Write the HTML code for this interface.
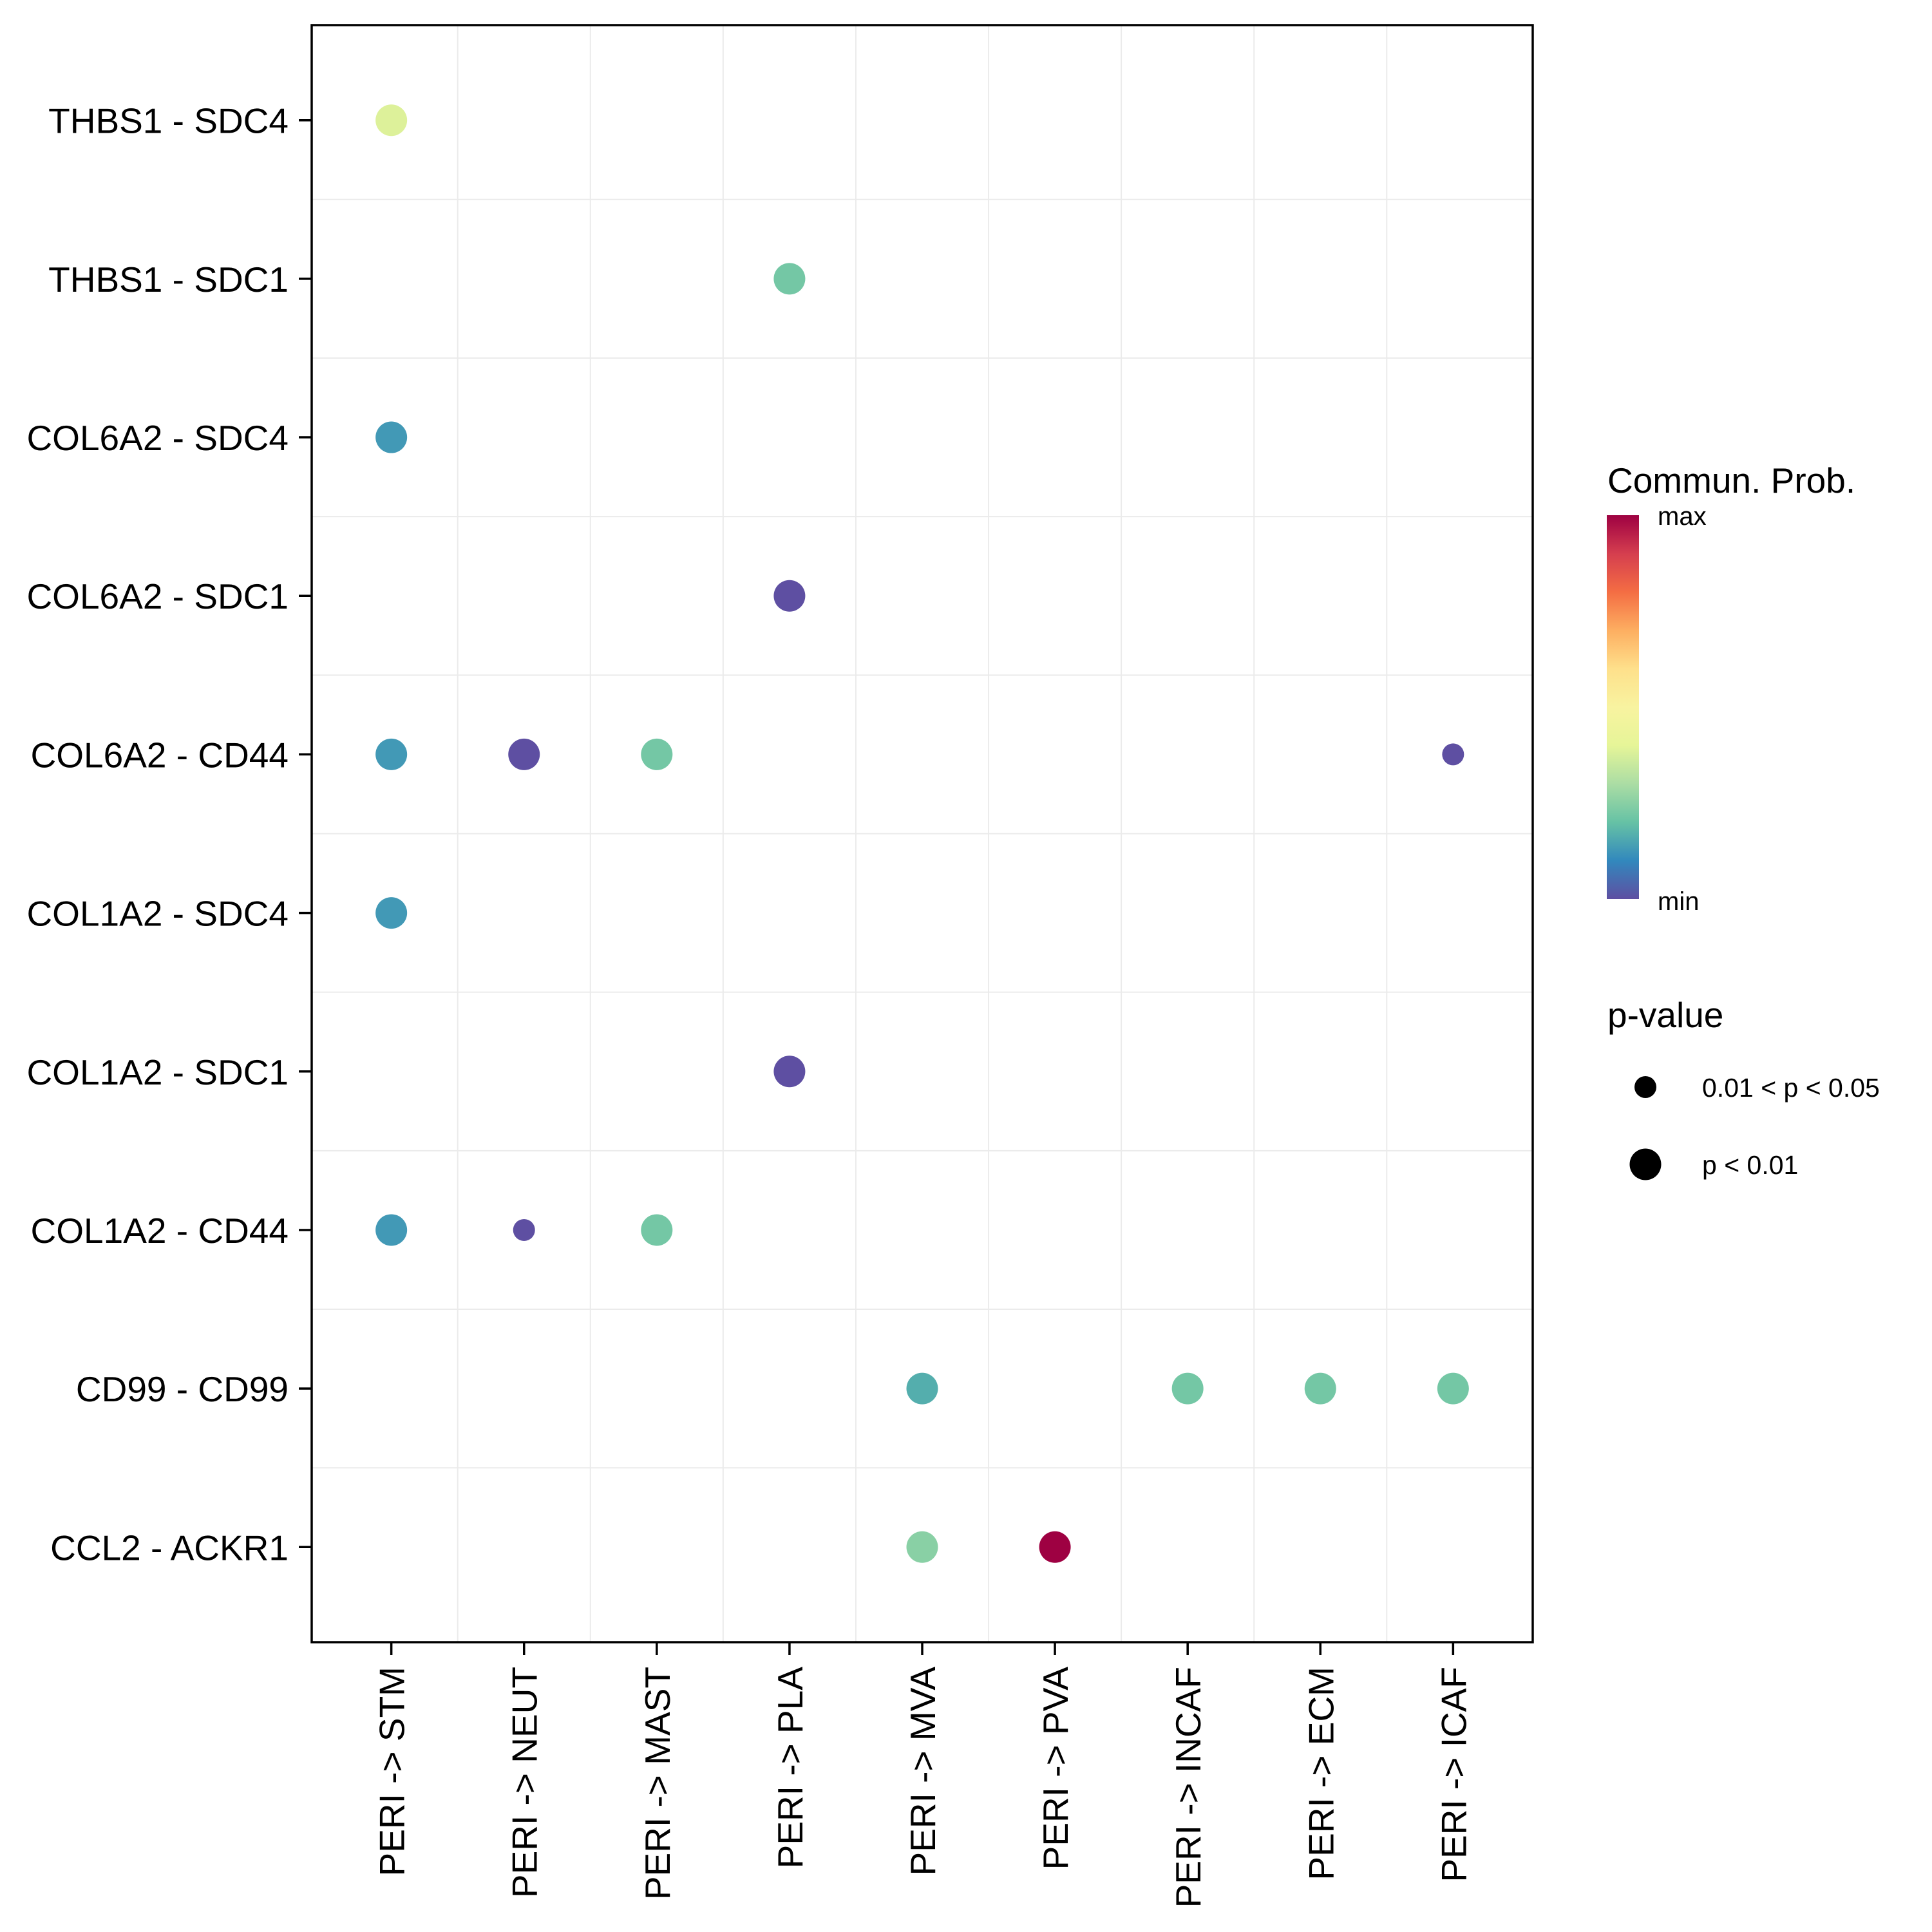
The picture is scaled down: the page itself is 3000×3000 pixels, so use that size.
<!DOCTYPE html>
<html><head><meta charset="utf-8">
<style>
html,body{margin:0;padding:0;background:#fff;}
svg{display:block;font-family:"Liberation Sans",Arial,sans-serif;}
</style></head>
<body>
<svg id="chart" width="3000" height="3000" viewBox="0 0 3000 3000" xmlns="http://www.w3.org/2000/svg">
<defs>
<linearGradient id="spectral" x1="0" y1="1" x2="0" y2="0">
<stop offset="0" stop-color="#5e4fa2"/><stop offset="0.1" stop-color="#3288bd"/><stop offset="0.2" stop-color="#66c2a5"/><stop offset="0.3" stop-color="#abdda4"/><stop offset="0.4" stop-color="#e6f598"/><stop offset="0.5" stop-color="#f8f3a0"/><stop offset="0.6" stop-color="#fee08b"/><stop offset="0.7" stop-color="#fdae61"/><stop offset="0.8" stop-color="#f46d43"/><stop offset="0.9" stop-color="#d53e4f"/><stop offset="1" stop-color="#9e0142"/>
</linearGradient>
</defs>
<g id="grid"></g>
<g id="dots"></g>
<rect x="484" y="39" width="1896" height="2511" fill="none" stroke="#000" stroke-width="3.5"/>
<g id="yaxis"></g>
<g id="xaxis"></g>
<g>
<text x="2496" y="765" font-size="55">Commun. Prob.</text>
<rect x="2495" y="800" width="50" height="596" fill="url(#spectral)"/>
<text x="2574" y="815" font-size="40">max</text>
<text x="2574" y="1413" font-size="40">min</text>
</g>
<g>
<text x="2496" y="1595" font-size="55">p-value</text>
<circle cx="2555" cy="1688" r="17" fill="#000"/>
<text x="2643" y="1703" font-size="41">0.01 &lt; p &lt; 0.05</text>
<circle cx="2555" cy="1808" r="24.5" fill="#000"/>
<text x="2643" y="1823" font-size="41">p &lt; 0.01</text>
</g>
</svg>
<script>
const rowLabels = ["THBS1 - SDC4","THBS1 - SDC1","COL6A2 - SDC4","COL6A2 - SDC1","COL6A2 - CD44","COL1A2 - SDC4","COL1A2 - SDC1","COL1A2 - CD44","CD99 - CD99","CCL2 - ACKR1"];
const colLabels = ["PERI -> STM","PERI -> NEUT","PERI -> MAST","PERI -> PLA","PERI -> MVA","PERI -> PVA","PERI -> INCAF","PERI -> ECM","PERI -> ICAF"];
const dotRow = [0,1,2,3,4,4,4,4,5,6,7,7,7,8,8,8,8,9,9];
const dotCol = [0,3,0,3,0,1,2,8,0,3,0,1,2,4,6,7,8,4,5];
const dotProb = [0.385,0.22,0.13,0.0,0.13,0.0,0.22,0.0,0.13,0.0,0.13,0.0,0.22,0.165,0.22,0.22,0.22,0.25,1.0];
const dotPval = [2,2,2,2,2,2,2,1,2,2,2,1,2,2,2,2,2,2,2];

const NS="http://www.w3.org/2000/svg";
const L=484,R=2380,T=39,B=2550;
const nR=rowLabels.length,nC=colLabels.length;
const stepY=(B-T)/(nR-1+1.2), stepX=(R-L)/(nC-1+1.2);
function yPos(i){return T+0.6*stepY+i*stepY;}
function xPos(j){return L+0.6*stepX+j*stepX;}
function rSize(p){return p===1?17:24.5;}
const stops=["#5e4fa2","#3288bd","#66c2a5","#abdda4","#e6f598","#ffffbf","#fee08b","#fdae61","#f46d43","#d53e4f","#9e0142"];
function hex(h){return [1,3,5].map(k=>parseInt(h.substr(k,2),16));}
function colorOf(v){v=Math.max(0,Math.min(1,v));const s=v*10,i=Math.min(9,Math.floor(s)),f=s-i;
const a=hex(stops[i]),b=hex(stops[i+1]);return "rgb("+a.map((c,k)=>Math.round(c+(b[k]-c)*f)).join(",")+")";}
function mk(tag,attrs,parent){const e=document.createElementNS(NS,tag);for(const k in attrs)e.setAttribute(k,attrs[k]);parent.appendChild(e);return e;}
const grid=document.getElementById('grid'),dots=document.getElementById('dots'),ya=document.getElementById('yaxis'),xa=document.getElementById('xaxis');
mk('rect',{x:L,y:T,width:R-L,height:B-T,fill:'#fff'},grid);
for(let i=0;i<nR-1;i++){const y=(yPos(i)+yPos(i+1))/2;const ln=mk('line',{x1:L,x2:R,y1:y,y2:y,stroke:'#ebebeb','stroke-width':2},grid);

}
for(let j=0;j<nC-1;j++){const x=(xPos(j)+xPos(j+1))/2;const ln=mk('line',{x1:x,x2:x,y1:T,y2:B,stroke:'#ebebeb','stroke-width':2},grid);

}
rowLabels.forEach((lab,i)=>{const y=yPos(i);
const t=mk('line',{x1:L-20,x2:L,y1:y,y2:y,stroke:'#000','stroke-width':3.5},ya);


const tx=mk('text',{x:L-36,y:y+20,'text-anchor':'end','font-size':55},ya);tx.textContent=lab;

});
colLabels.forEach((lab,j)=>{const x=xPos(j);
const t=mk('line',{x1:x,x2:x,y1:B,y2:B+20,stroke:'#000','stroke-width':3.5},xa);


const tx=mk('text',{x:0,y:0,'text-anchor':'end','font-size':55,transform:'translate('+(x+20)+','+(B+38)+') rotate(-90)'},xa);tx.textContent=lab;

});
dotRow.forEach((r,k)=>{const c=mk('circle',{cx:xPos(dotCol[k]),cy:yPos(r),r:rSize(dotPval[k]),fill:colorOf(dotProb[k])},dots);

});
</script>
</body></html>
